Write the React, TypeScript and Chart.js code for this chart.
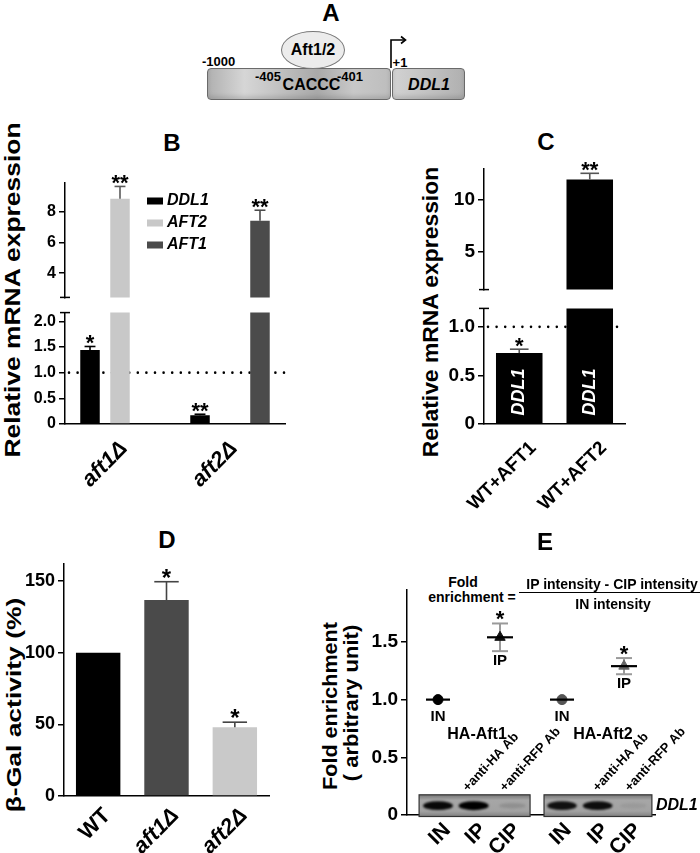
import React, { useEffect, useRef } from 'react';
import { Chart, registerables } from 'chart.js';

Chart.register(...registerables);

const FONT = '"Liberation Sans", Arial, Helvetica, sans-serif';

// ---------------- data: panel B ----------------
const bCategories = ['aft1Δ', 'aft2Δ'];
const bDDL1 = [1.44, 0.17];
const bDDL1Err = [0.07, 0.02];
const bDDL1Stars = ['*', '**'];
const bAFT2 = [8.85, null];
const bAFT2Err = [0.8, null];
const bAFT2Stars = ['**', null];
const bAFT1 = [null, 7.42];
const bAFT1Err = [null, 0.68];
const bAFT1Stars = [null, '**'];
const bUpperTicks = [4, 6, 8];
const bUpperTickLabels = ['4', '6', '8'];
const bLowerTicks = [0, 0.5, 1, 1.5, 2];
const bLowerTickLabels = ['0', '0.5', '1.0', '1.5', '2.0'];
const bReference = 1.0;

// ---------------- data: panel C ----------------
const cCategories = ['WT+AFT1', 'WT+AFT2'];
const cDDL1 = [0.73, 11.93];
const cDDL1Err = [0.04, 0.6];
const cStars = ['*', '**'];
const cUpperTicks = [5, 10];
const cUpperTickLabels = ['5', '10'];
const cLowerTicks = [0, 0.5, 1];
const cLowerTickLabels = ['0', '0.5', '1.0'];
const cReference = 1.0;

// ---------------- data: panel D ----------------
const dCategories = ['WT', 'aft1Δ', 'aft2Δ'];
const dValues = [100, 136.7, 48];
const dErr = [null, 12.8, 3.5];
const dStars = [null, '*', '*'];
const dTicks = [0, 50, 100, 150];
const dTickLabels = ['0', '50', '100', '150'];

// ---------------- data: panel E ----------------
const eTickLabels = ['IN', 'IP', 'CIP', 'IN', 'IP', 'CIP'];
const eGroups = ['HA-Aft1', 'HA-Aft2'];
const eINy = [1.0, 1.0];
const eIPy = [1.54, 1.29];
const eIPErr = [0.12, 0.07];
const eIPStars = ['*', '*'];
const eBandIntensity = [0.95, 1.0, 0.12, 0.9, 0.92, 0.06];
const eGelTarget = 'DDL1';
const eAntibodies = ['+anti-HA Ab', '+anti-RFP Ab'];
const eYTicks = [0, 0.5, 1, 1.5];
const eYTickLabels = ['0', '0.5', '1.0', '1.5'];

// layout positions along panel E's x axis (axis units 0..8)
const E_TICK_X = [1.3, 2.45, 3.55, 5.2, 6.4, 7.45];
const E_IN_X = [1, 5];
const E_IP_X = [3, 7];
const E_LANE_X = [1, 2.15, 3.4, 5, 6.15, 7.3];
const E_BOX = [[0.39, 3.97], [4.42, 7.9]];
const E_AB_X = [[1.97, 3.16], [6.16, 7.19]];
const E_GROUP_X = [2.26, 6.32];

// ---------------- helpers ----------------
function strokeLine(ctx: any, x1: number, y1: number, x2: number, y2: number) {
  ctx.beginPath();
  ctx.moveTo(x1, y1);
  ctx.lineTo(x2, y2);
  ctx.stroke();
}

function yAxis(min: number, max: number, ticks: number[], labels: string[], size: number, width: number) {
  return {
    type: 'linear',
    min,
    max,
    afterBuildTicks: (s: any) => {
      s.ticks = ticks.map((v) => ({ value: v }));
    },
    afterFit: (s: any) => {
      s.width = width;
    },
    ticks: {
      callback: (_v: any, i: number) => labels[i],
      color: '#000',
      padding: 3,
      font: { family: FONT, size, weight: 'bold' },
    },
    grid: { display: true, drawOnChartArea: false, drawTicks: true, tickLength: 6, color: '#000', lineWidth: 1.5 },
    border: { display: true, color: '#000', width: 1.5 },
  };
}

function xCategory(show: boolean, size: number, height: number, padding: number, labelOffset: number, cats: string[]) {
  return {
    type: 'category',
    display: show,
    offset: true,
    afterFit: (s: any) => {
      s.height = show ? height : 0;
    },
    ticks: {
      autoSkip: false,
      minRotation: 45,
      maxRotation: 45,
      padding,
      labelOffset,
      color: '#000',
      font: (c: any) => ({
        family: FONT,
        size,
        weight: 'bold',
        style: /Δ/.test(cats[c.index] || '') ? 'italic' : 'normal',
      }),
    },
    grid: { display: false, drawTicks: false },
    border: { display: true, color: '#000', width: 1.5 },
  };
}

function barDecor(o: {
  ref?: number;
  capRatio: number;
  starSize: number;
  breakAt?: 'top' | 'bottom';
  inBarValue?: number;
  legend?: { x: number; y: number; gap: number };
}) {
  return {
    id: 'barDecor',
    beforeDatasetsDraw(chart: any) {
      if (o.ref == null) return;
      const ys = chart.scales.y;
      const a = chart.chartArea;
      const ctx = chart.ctx;
      if (o.ref < ys.min || o.ref > ys.max) return;
      const y = ys.getPixelForValue(o.ref);
      ctx.save();
      ctx.strokeStyle = '#000';
      ctx.lineWidth = 2.6;
      ctx.lineCap = 'round';
      ctx.setLineDash([0, 8.6]);
      strokeLine(ctx, a.left + 4, y, a.right, y);
      ctx.restore();
    },
    afterDatasetsDraw(chart: any) {
      const ctx = chart.ctx;
      const ys = chart.scales.y;
      const a = chart.chartArea;
      chart.data.datasets.forEach((ds: any, di: number) => {
        const meta = chart.getDatasetMeta(di);
        meta.data.forEach((el: any, i: number) => {
          const v = ds.data[i];
          if (v == null) return;
          const e = ds.errors ? ds.errors[i] || 0 : 0;
          const top = v + e;
          if (top > ys.max || top < ys.min) return;
          const yv = ys.getPixelForValue(v);
          const yt = ys.getPixelForValue(top);
          ctx.save();
          if (e) {
            ctx.strokeStyle = ds.errorColor;
            ctx.lineWidth = 1.6;
            strokeLine(ctx, el.x, yv, el.x, yt);
            const hw = (el.width * o.capRatio) / 2;
            strokeLine(ctx, el.x - hw, yt, el.x + hw, yt);
          }
          const s = ds.stars ? ds.stars[i] : null;
          if (s) {
            ctx.fillStyle = '#000';
            ctx.font = `bold ${o.starSize}px ${FONT}`;
            ctx.textAlign = 'center';
            ctx.textBaseline = 'alphabetic';
            ctx.fillText(s, el.x, yt + o.starSize * 0.17);
          }
          ctx.restore();
        });
        if (o.inBarValue != null && o.inBarValue >= ys.min && o.inBarValue <= ys.max) {
          meta.data.forEach((el: any, i: number) => {
            if (ds.data[i] == null) return;
            ctx.save();
            ctx.translate(el.x, ys.getPixelForValue(o.inBarValue));
            ctx.rotate(-Math.PI / 2);
            ctx.fillStyle = '#fff';
            ctx.font = `italic bold 18px ${FONT}`;
            ctx.textAlign = 'center';
            ctx.textBaseline = 'middle';
            ctx.fillText(ds.label, 0, 0);
            ctx.restore();
          });
        }
      });
      if (o.breakAt) {
        const y = o.breakAt === 'bottom' ? a.bottom : a.top;
        ctx.save();
        ctx.strokeStyle = '#000';
        ctx.lineWidth = 1.5;
        strokeLine(ctx, a.left - 5, y, a.left + 5, y);
        ctx.restore();
      }
      if (o.legend) {
        const L = o.legend;
        chart.data.datasets.forEach((ds: any, i: number) => {
          const y = L.y + i * L.gap;
          ctx.save();
          ctx.fillStyle = ds.backgroundColor;
          ctx.fillRect(L.x, y - 3.5, 16, 7);
          ctx.fillStyle = '#000';
          ctx.font = `italic bold 16px ${FONT}`;
          ctx.textAlign = 'left';
          ctx.textBaseline = 'middle';
          ctx.fillText(ds.label, L.x + 20, y);
          ctx.restore();
        });
      }
    },
  };
}

const baseOptions = (padding: any) => ({
  animation: false,
  responsive: false,
  devicePixelRatio: 1,
  layout: { padding },
  plugins: { legend: { display: false }, tooltip: { enabled: false } },
});

// ---------------- chart builders ----------------
function makeB(lower: boolean) {
  return {
    type: 'bar',
    data: {
      labels: bCategories,
      datasets: [
        { label: 'DDL1', data: bDDL1, errors: bDDL1Err, stars: bDDL1Stars, backgroundColor: '#000', errorColor: '#000', clip: 0 },
        { label: 'AFT2', data: bAFT2, errors: bAFT2Err, stars: bAFT2Stars, backgroundColor: '#c8c8c8', errorColor: '#5a5a5a', clip: 0 },
        { label: 'AFT1', data: bAFT1, errors: bAFT1Err, stars: bAFT1Stars, backgroundColor: '#4b4b4b', errorColor: '#4b4b4b', clip: 0 },
      ],
    },
    options: {
      ...baseOptions(lower ? { left: 0, right: 15, top: 12, bottom: 0 } : { left: 0, right: 15, top: 12, bottom: 5 }),
      datasets: { bar: { barPercentage: 0.65, categoryPercentage: 0.818 } },
      scales: {
        x: xCategory(lower, 22, 76, 12, 4, bCategories),
        y: lower
          ? yAxis(0, 2.17, bLowerTicks, bLowerTickLabels, 16, 65)
          : yAxis(2.42, 9.9, bUpperTicks, bUpperTickLabels, 16, 65),
      },
    },
    plugins: [
      barDecor(
        lower
          ? { ref: bReference, capRatio: 0.56, starSize: 22, breakAt: 'top' }
          : { capRatio: 0.56, starSize: 22, breakAt: 'bottom', legend: { x: 147, y: 31, gap: 22 } }
      ),
    ],
  };
}

function makeC(lower: boolean) {
  return {
    type: 'bar',
    data: {
      labels: cCategories,
      datasets: [
        { label: 'DDL1', data: cDDL1, errors: cDDL1Err, stars: cStars, backgroundColor: '#000', errorColor: '#555', clip: 0 },
      ],
    },
    options: {
      ...baseOptions(lower ? { left: 0, right: 75, top: 12, bottom: 0 } : { left: 0, right: 75, top: 12, bottom: 6 }),
      datasets: { bar: { barPercentage: 0.66, categoryPercentage: 1 } },
      scales: {
        x: xCategory(lower, 19, 100, 13, 14, cCategories),
        y: lower
          ? yAxis(0, 1.19, cLowerTicks, cLowerTickLabels, 19, 104)
          : yAxis(1.4, 13, cUpperTicks, cUpperTickLabels, 19, 104),
      },
    },
    plugins: [
      barDecor(
        lower
          ? { ref: cReference, capRatio: 0.4, starSize: 22, breakAt: 'top', inBarValue: 0.33 }
          : { capRatio: 0.4, starSize: 22, breakAt: 'bottom' }
      ),
    ],
  };
}

function makeD() {
  return {
    type: 'bar',
    data: {
      labels: dCategories,
      datasets: [
        {
          label: 'β-Gal activity',
          data: dValues,
          errors: dErr,
          stars: dStars,
          backgroundColor: ['#000', '#4a4a4a', '#c9c9c9'],
          errorColor: '#444',
          clip: 0,
        },
      ],
    },
    options: {
      ...baseOptions({ left: 0, right: 21, top: 13, bottom: 0 }),
      datasets: { bar: { barPercentage: 0.65, categoryPercentage: 1 } },
      scales: {
        x: xCategory(true, 22, 57, 7, 9, dCategories),
        y: yAxis(0, 162, dTicks, dTickLabels, 18, 64),
      },
    },
    plugins: [barDecor({ capRatio: 0.55, starSize: 24 })],
  };
}

const ePlugin = {
  id: 'eDecor',
  beforeDatasetsDraw(chart: any) {
    const ctx = chart.ctx;
    const ys = chart.scales.y;
    chart.data.datasets.forEach((ds: any, di: number) => {
      if (!ds.errors) return;
      chart.getDatasetMeta(di).data.forEach((pt: any, i: number) => {
        const v = ds.data[i].y;
        const e = ds.errors[i];
        const y1 = ys.getPixelForValue(v + e);
        const y2 = ys.getPixelForValue(v - e);
        ctx.save();
        ctx.strokeStyle = '#9a9a9a';
        ctx.lineWidth = 2;
        strokeLine(ctx, pt.x, y1, pt.x, y2);
        strokeLine(ctx, pt.x - 8, y1, pt.x + 8, y1);
        strokeLine(ctx, pt.x - 8, y2, pt.x + 8, y2);
        ctx.restore();
      });
    });
  },
  afterDatasetsDraw(chart: any) {
    const ctx = chart.ctx;
    const xs = chart.scales.x;
    const ys = chart.scales.y;
    ctx.save();
    ctx.fillStyle = '#000';
    ctx.textAlign = 'center';
    // labels under points, stars above error bars
    chart.data.datasets.forEach((ds: any, di: number) => {
      if (ds.pointStyle === 'line') return;
      chart.getDatasetMeta(di).data.forEach((pt: any, i: number) => {
        const v = ds.data[i].y;
        const e = ds.errors ? ds.errors[i] : 0;
        ctx.font = `bold 15px ${FONT}`;
        ctx.textBaseline = 'middle';
        ctx.fillText(ds.label, pt.x, ys.getPixelForValue(v - e) + (e ? 10 : 17));
        if (ds.stars && ds.stars[i]) {
          ctx.font = `bold 22px ${FONT}`;
          ctx.textBaseline = 'alphabetic';
          ctx.fillText(ds.stars[i], pt.x, ys.getPixelForValue(v + e) + 3);
        }
      });
    });
    // group names
    ctx.font = `bold 16px ${FONT}`;
    ctx.textBaseline = 'middle';
    eGroups.forEach((g, i) => ctx.fillText(g, xs.getPixelForValue(E_GROUP_X[i]), ys.getPixelForValue(0.7)));
    ctx.restore();

    // gel boxes
    const yTop = ys.getPixelForValue(0.175);
    const yBot = ys.getPixelForValue(0) + 1.5;
    const yMid = (yTop + yBot) / 2;
    E_BOX.forEach(([a, b]) => {
      const x1 = xs.getPixelForValue(a);
      const x2 = xs.getPixelForValue(b);
      ctx.save();
      const g = ctx.createLinearGradient(0, yTop, 0, yBot);
      g.addColorStop(0, '#777');
      g.addColorStop(0.25, '#a6a6a6');
      g.addColorStop(0.75, '#a2a2a2');
      g.addColorStop(1, '#808080');
      ctx.fillStyle = g;
      ctx.fillRect(x1, yTop, x2 - x1, yBot - yTop);
      ctx.strokeStyle = '#333';
      ctx.lineWidth = 1.2;
      ctx.strokeRect(x1, yTop, x2 - x1, yBot - yTop);
      ctx.restore();
    });
    // bands
    E_LANE_X.forEach((lx, k) => {
      const inten = eBandIntensity[k];
      ctx.save();
      ctx.filter = 'blur(1.2px)';
      ctx.fillStyle = `rgba(0,0,0,${inten})`;
      ctx.beginPath();
      ctx.ellipse(xs.getPixelForValue(lx), yMid, 13 + inten * 2, 2.5 + inten * 2, 0, 0, Math.PI * 2);
      ctx.fill();
      ctx.restore();
    });
    // antibody labels
    ctx.save();
    ctx.fillStyle = '#000';
    ctx.font = `bold 13px ${FONT}`;
    ctx.textAlign = 'left';
    ctx.textBaseline = 'alphabetic';
    E_AB_X.forEach((pair) => {
      pair.forEach((ax, j) => {
        ctx.save();
        ctx.translate(xs.getPixelForValue(ax), ys.getPixelForValue(0.2));
        ctx.rotate((-47 * Math.PI) / 180);
        ctx.fillText(eAntibodies[j], 0, 0);
        ctx.restore();
      });
    });
    // gel target
    ctx.font = `italic bold 16px ${FONT}`;
    ctx.textBaseline = 'middle';
    ctx.fillText(eGelTarget, xs.getPixelForValue(E_BOX[1][1]) + 4, yMid);
    ctx.restore();
  },
};

function makeE() {
  const inPts = E_IN_X.map((x, i) => ({ x, y: eINy[i] }));
  const ipPts = E_IP_X.map((x, i) => ({ x, y: eIPy[i] }));
  return {
    type: 'scatter',
    data: {
      datasets: [
        { label: 'IN mean', data: inPts, pointStyle: 'line', pointRadius: 12, pointBorderColor: '#000', pointBorderWidth: 2.2, borderColor: '#000', borderWidth: 2.2 },
        { label: 'IP mean', data: ipPts, pointStyle: 'line', pointRadius: 13, pointBorderColor: '#000', pointBorderWidth: 2.2, borderColor: '#000', borderWidth: 2.2 },
        { label: 'IN', data: inPts, pointStyle: 'circle', pointRadius: 5, pointBackgroundColor: ['#000', '#555'], pointBorderColor: ['#000', '#555'], pointBorderWidth: 1 },
        { label: 'IP', data: ipPts, errors: eIPErr, stars: eIPStars, pointStyle: 'triangle', pointRadius: 6, pointBackgroundColor: ['#111', '#666'], pointBorderColor: ['#111', '#666'], pointBorderWidth: 1 },
      ],
    },
    options: {
      ...baseOptions({ left: 0, right: 45, top: 20, bottom: 0 }),
      scales: {
        x: {
          type: 'linear',
          min: 0,
          max: 8,
          afterBuildTicks: (s: any) => {
            s.ticks = E_TICK_X.map((v) => ({ value: v }));
          },
          afterFit: (s: any) => {
            s.height = 38;
          },
          ticks: {
            callback: (_v: any, i: number) => eTickLabels[i],
            autoSkip: false,
            minRotation: 45,
            maxRotation: 45,
            padding: 3,
            color: '#000',
            font: { family: FONT, size: 21, weight: 'bold' },
          },
          grid: { display: false, drawTicks: false },
          border: { display: true, color: '#000', width: 1.5 },
        },
        y: yAxis(0, 1.95, eYTicks, eYTickLabels, 19, 67),
      },
    },
    plugins: [ePlugin],
  };
}

// ---------------- components ----------------
function ChartBox({ left, top, width, height, build }: { left: number; top: number; width: number; height: number; build: () => any }) {
  const ref = useRef<HTMLCanvasElement | null>(null);
  useEffect(() => {
    const chart = new Chart(ref.current as HTMLCanvasElement, build());
    return () => chart.destroy();
  }, []);
  return <canvas ref={ref} width={width} height={height} style={{ position: 'absolute', left, top, width, height, display: 'block' }} />;
}

function HText({ x, y, size, italic, children, weight = 'bold' }: any) {
  return (
    <div
      style={{
        position: 'absolute',
        left: x,
        top: y,
        transform: 'translate(-50%,-50%)',
        font: `${italic ? 'italic ' : ''}${weight} ${size}px ${FONT}`,
        lineHeight: 1,
        whiteSpace: 'nowrap',
        color: '#000',
      }}
    >
      {children}
    </div>
  );
}

function VText({ x, y, size, scale = 1, children }: any) {
  return (
    <div
      style={{
        position: 'absolute',
        left: x,
        top: y,
        transform: `translate(-50%,-50%) rotate(-90deg) scaleX(${scale})`,
        font: `bold ${size}px ${FONT}`,
        lineHeight: 1,
        whiteSpace: 'nowrap',
        color: '#000',
      }}
    >
      {children}
    </div>
  );
}

function PanelA() {
  const box = (left: number, width: number, bg: string) => ({
    position: 'absolute' as const,
    left,
    top: 68,
    width,
    height: 32,
    boxSizing: 'border-box' as const,
    border: '1px solid #6a6a6a',
    borderRadius: 4,
    background: bg,
    boxShadow: 'inset 0 -3px 4px rgba(0,0,0,0.12)',
  });
  return (
    <>
      <div style={box(207, 184, 'linear-gradient(90deg,#b0b0b0 0%,#d6d6d6 20%,#c6c6c6 35%,#a9a9a9 60%,#c8c8c8 80%,#bdbdbd 100%)')} />
      <div style={box(392, 73, 'linear-gradient(90deg,#d2d2d2 0%,#c2c2c2 50%,#b0b0b0 100%)')} />
      <div
        style={{
          position: 'absolute',
          left: 281,
          top: 31,
          width: 64,
          height: 38,
          boxSizing: 'border-box',
          borderRadius: '50%',
          border: '1.5px solid #777',
          background: '#ececec',
        }}
      />
      <svg style={{ position: 'absolute', left: 385, top: 30, overflow: 'visible' }} width={30} height={40}>
        <path d="M6 38 V10 H20" stroke="#000" strokeWidth={1.6} fill="none" />
        <path d="M16 6.5 L20.5 10 L16 13.5" stroke="#000" strokeWidth={1.6} fill="none" />
      </svg>
      <HText x={331} y={13} size={24}>A</HText>
      <HText x={313} y={50} size={16}>Aft1/2</HText>
      <HText x={218.5} y={61} size={13}>-1000</HText>
      <HText x={268} y={76} size={13}>-405</HText>
      <HText x={311.5} y={85} size={16}>CACCC</HText>
      <HText x={350} y={76} size={13}>-401</HText>
      <HText x={400} y={62} size={13}>+1</HText>
      <HText x={429} y={85} size={16} italic>
        DDL1
      </HText>
    </>
  );
}

export default function App() {
  return (
    <div style={{ position: 'absolute', left: 0, top: 0, width: 700, height: 853, background: '#fff', overflow: 'hidden' }}>
      <PanelA />

      {/* Panel B */}
      <HText x={172} y={143} size={24}>B</HText>
      <VText x={13} y={290} size={22} scale={1.2}>Relative mRNA expression</VText>
      <ChartBox left={0} top={170} width={300} height={140} build={() => makeB(false)} />
      <ChartBox left={0} top={300} width={300} height={200} build={() => makeB(true)} />

      {/* Panel C */}
      <HText x={546} y={142} size={24}>C</HText>
      <VText x={431} y={312} size={22} scale={1.04}>Relative mRNA expression</VText>
      <ChartBox left={380} top={154} width={320} height={150} build={() => makeC(false)} />
      <ChartBox left={380} top={294} width={320} height={230} build={() => makeC(true)} />

      {/* Panel D */}
      <HText x={167} y={540} size={24}>D</HText>
      <VText x={13} y={705} size={21} scale={1.26}>β-Gal activity (%)</VText>
      <ChartBox left={0} top={550} width={290} height={303} build={makeD} />

      {/* Panel E */}
      <HText x={545} y={542} size={24}>E</HText>
      <VText x={330} y={706} size={20} scale={1.08}>Fold enrichment</VText>
      <VText x={351} y={703} size={20} scale={1.1}>( arbitrary unit)</VText>
      <HText x={463} y={582} size={14}>Fold</HText>
      <HText x={472} y={597} size={14}>enrichment =</HText>
      <HText x={612} y={584} size={14}>IP intensity - CIP intensity</HText>
      <div style={{ position: 'absolute', left: 519, top: 592, width: 181, height: 0, borderTop: '1.5px solid #000' }} />
      <HText x={613} y={604} size={14}>IN intensity</HText>
      <ChartBox left={340} top={570} width={360} height={283} build={makeE} />
    </div>
  );
}
